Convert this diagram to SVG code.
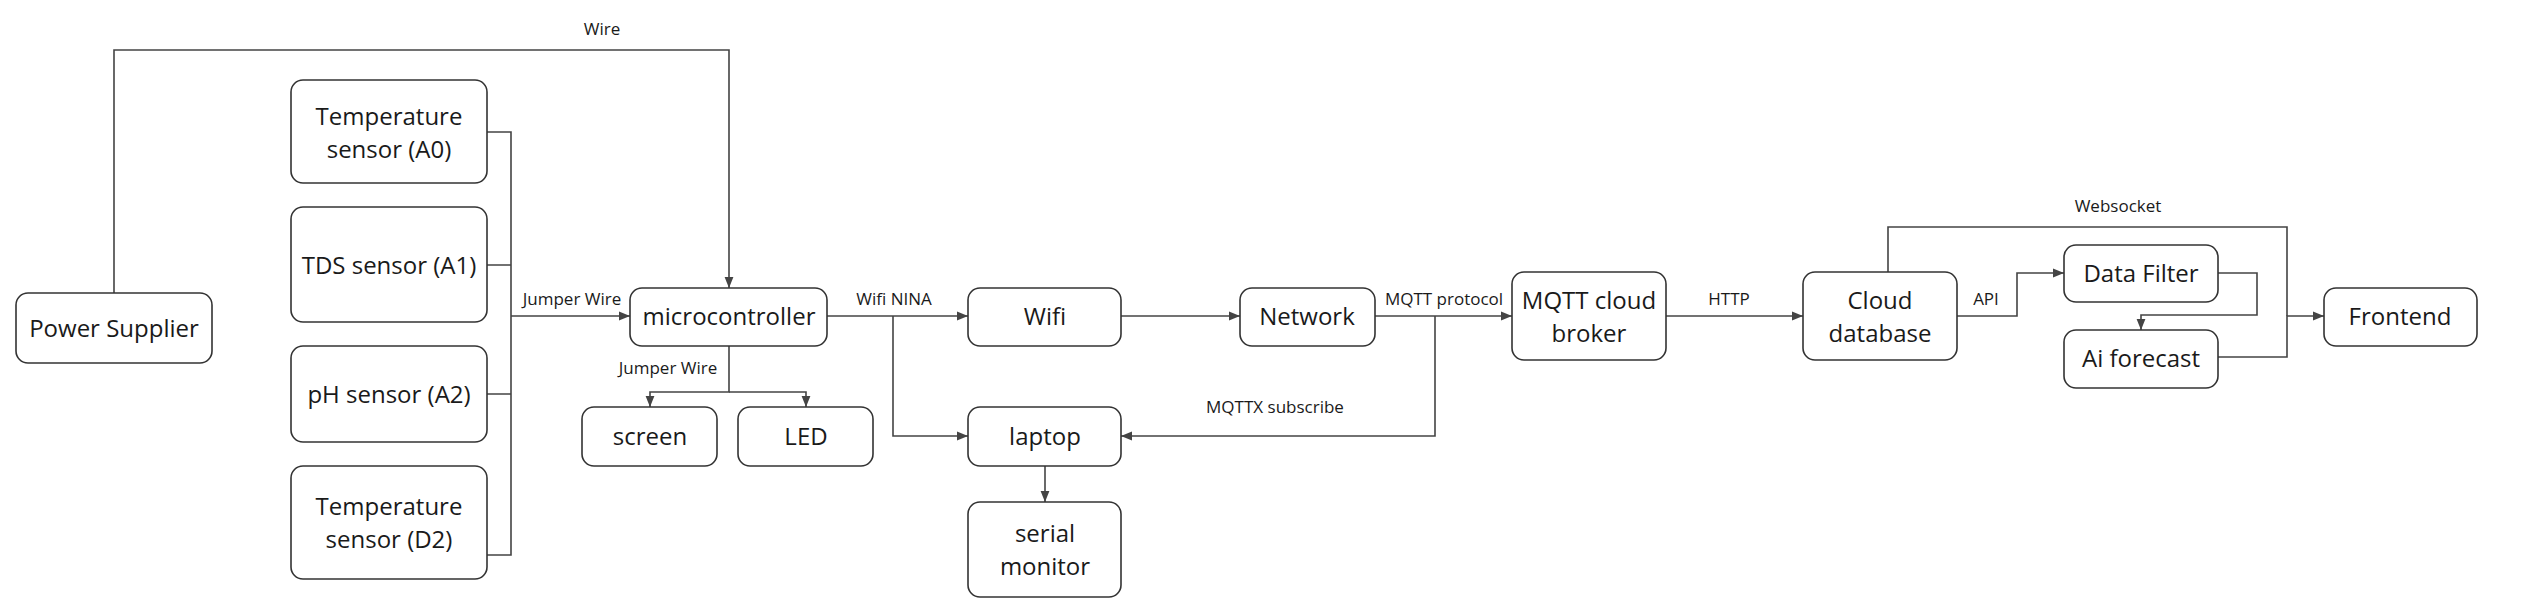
<svg xmlns="http://www.w3.org/2000/svg" width="2522" height="608" viewBox="0 0 2522 608">
<style>
.n rect{fill:#fff;stroke:#333;stroke-width:1.6}
.n text{font-family:"Open Sans","Noto Sans",sans-serif;font-size:24px;fill:#1a1a1a;text-anchor:middle}
.c path{fill:none;stroke:#444;stroke-width:1.6}
.l{font-family:"Open Sans","Noto Sans",sans-serif;font-size:17px;fill:#1a1a1a;text-anchor:middle}
</style>
<defs><marker id="a" viewBox="0 0 10 10" refX="10" refY="5" markerWidth="7" markerHeight="7" orient="auto"><path d="M0,1 L10,5 L0,9 z" fill="#444"/></marker></defs>
<rect width="2522" height="608" fill="#fff"/>
<g class="c">
<path d="M114,293 V50 H729 V288" marker-end="url(#a)"/>
<path d="M487,132 H511 V555 H487 M487,265 H511 M487,394 H511 M511,316 H630" marker-end="url(#a)"/>
<path d="M729,346 V392 H650 V407" marker-end="url(#a)"/>
<path d="M729,392 H806 V407" marker-end="url(#a)"/>
<path d="M827,316 H968" marker-end="url(#a)"/>
<path d="M893,316 V436 H968" marker-end="url(#a)"/>
<path d="M1121,316 H1240" marker-end="url(#a)"/>
<path d="M1375,316 H1512" marker-end="url(#a)"/>
<path d="M1435,316 V436 H1121" marker-end="url(#a)"/>
<path d="M1045,466 V502" marker-end="url(#a)"/>
<path d="M1666,316 H1803" marker-end="url(#a)"/>
<path d="M1957,316 H2017 V273 H2064" marker-end="url(#a)"/>
<path d="M2218,273 H2257 V315 H2141 V330" marker-end="url(#a)"/>
<path d="M2218,357 H2287 V316 H2324" marker-end="url(#a)"/>
<path d="M1888,272 V227 H2287 V316"/>
</g>
<text class="l" x="602" y="35">Wire</text>
<text class="l" x="572" y="305">Jumper Wire</text>
<text class="l" x="668" y="374">Jumper Wire</text>
<text class="l" x="894" y="305">Wifi NINA</text>
<text class="l" x="1444" y="305">MQTT protocol</text>
<text class="l" x="1275" y="413">MQTTX subscribe</text>
<text class="l" x="1729" y="305">HTTP</text>
<text class="l" x="1986" y="305">API</text>
<text class="l" x="2118" y="212">Websocket</text>
<g id="power" class="n"><rect x="16" y="293" width="196" height="70" rx="12"/><text x="114" y="337">Power Supplier</text></g>
<g id="temp0" class="n"><rect x="291" y="80" width="196" height="103" rx="12"/><text x="389" y="125">Temperature</text><text x="389" y="158">sensor (A0)</text></g>
<g id="tds" class="n"><rect x="291" y="207" width="196" height="115" rx="12"/><text x="389" y="274">TDS sensor (A1)</text></g>
<g id="ph" class="n"><rect x="291" y="346" width="196" height="96" rx="12"/><text x="389" y="403">pH sensor (A2)</text></g>
<g id="temp2" class="n"><rect x="291" y="466" width="196" height="113" rx="12"/><text x="389" y="515">Temperature</text><text x="389" y="548">sensor (D2)</text></g>
<g id="mcu" class="n"><rect x="630" y="288" width="197" height="58" rx="12"/><text x="729" y="325">microcontroller</text></g>
<g id="screen" class="n"><rect x="582" y="407" width="135" height="59" rx="12"/><text x="650" y="445">screen</text></g>
<g id="led" class="n"><rect x="738" y="407" width="135" height="59" rx="12"/><text x="806" y="445">LED</text></g>
<g id="wifi" class="n"><rect x="968" y="288" width="153" height="58" rx="12"/><text x="1045" y="325">Wifi</text></g>
<g id="laptop" class="n"><rect x="968" y="407" width="153" height="59" rx="12"/><text x="1045" y="445">laptop</text></g>
<g id="serial" class="n"><rect x="968" y="502" width="153" height="95" rx="12"/><text x="1045" y="542">serial</text><text x="1045" y="575">monitor</text></g>
<g id="network" class="n"><rect x="1240" y="288" width="135" height="58" rx="12"/><text x="1307" y="325">Network</text></g>
<g id="broker" class="n"><rect x="1512" y="272" width="154" height="88" rx="12"/><text x="1589" y="309">MQTT cloud</text><text x="1589" y="342">broker</text></g>
<g id="clouddb" class="n"><rect x="1803" y="272" width="154" height="88" rx="12"/><text x="1880" y="309">Cloud</text><text x="1880" y="342">database</text></g>
<g id="filter" class="n"><rect x="2064" y="245" width="154" height="57" rx="12"/><text x="2141" y="282">Data Filter</text></g>
<g id="ai" class="n"><rect x="2064" y="330" width="154" height="58" rx="12"/><text x="2141" y="367">Ai forecast</text></g>
<g id="frontend" class="n"><rect x="2324" y="288" width="153" height="58" rx="12"/><text x="2400" y="325">Frontend</text></g>
</svg>
